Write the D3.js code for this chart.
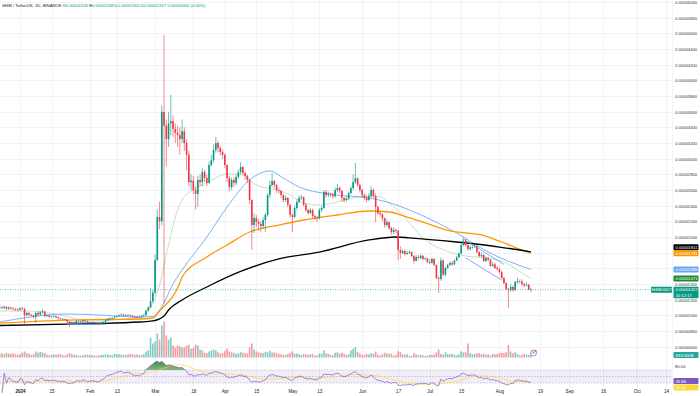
<!DOCTYPE html>
<html>
<head>
<meta charset="utf-8">
<script src="https://cdn.jsdelivr.net/npm/d3@7"></script>
<style>
  html, body { margin: 0; padding: 0; background: #fff; }
  svg { display: block; font-family: "Liberation Sans", Arial, sans-serif; }
</style>
</head>
<body>
<svg id="chart" width="700" height="396"></svg>
<script>
// prices are in units of 1e-8 USDT (1327 -> 0.00001327)
const startDate = "2023-12-23";
const firstOpen = 1100;

const closes = [
  1105,1095,1110,1085,1100,1090,1080,1075,1070,
  1090,1085,1000,1030,1010,1000,980,1030,1010,1040, 1050,990,1000,980,985,990,975,960,950,955, 945,920,900,910,905,930,925,920,935,925, 900,
  905,910,905,895,890,905,915,935,955,960, 965,980,990,1000,1010,995,1000,1005,1000,985, 975,980,975,990,1000,1060,1100,1180,1290,
  1706,2255,2200,3596,3420,3250,3450,3480,3380,3330, 3300,3250,3350,3200,3050,2700,2720,2600,2550,2728, 2700,2830,2753,2690,2919,2983,3111,3200,3136,3085, 3047,
  2919,2753,2638,2728,2690,2766,2830,2894,2817,2779, 2728,2472,2153,2243,2191,2166,2140,2217,2281,2536, 2664,2715,2664,2600,2590,2536,2472,2500,2410,2281,
  2255,2370,2447,2500,2510,2410,2345,2306,2345,2268, 2250,2240,2345,2370,2575,2536,2550,2540,2520,2600, 2625,2590,2500,2472,2490,2560,2625,2700,2750,2664, 2600,
  2536,2500,2472,2523,2600,2523,2383,2306,2290,2240, 2153,2190,2115,2064,2090,2080,1834,1796,1820,1783, 1796,1808,1757,1694,1745,1732,1760,1719,1725,1681,
  1670,1719,1643,1477,1464,1700,1520,1604,1643,1668, 1650,1700,1740,1790,1898,1950,1898,1847,1870,1872, 1880,1808,1757,1770,1694,1730,1710,1630,1650,1604, 1590,
  1553,1477,1413,1336,1323,1362,1323,1426,1438,1430, 1400,1380,1390,1326,1327
];
const highs = [
  1130,1120,1125,1115,1115,1110,1100,1095,1090,
  1100,1110,1090,1045,1040,1020,1005,1040,1050,1060, 1080,1060,1010,1005,995,1000,995,985,970,965, 960,950,925,925,920,940,940,935,945,945, 930,
  915,920,915,910,905,915,925,945,965,975, 975,995,1000,1015,1025,1015,1010,1015,1015,1000, 990,990,985,1000,1010,1070,1120,1350,1320,
  1780,2350,2450,3680,4579,3500,3600,3813,3550,3450, 3420,3400,3500,3400,3250,3100,2800,2780,2650,2780, 2800,2880,2860,2800,2960,3050,3180,3277,3230,3160, 3120,
  3070,2930,2780,2760,2760,2790,2860,2957,2900,2840, 2800,2740,2480,2300,2280,2230,2200,2250,2310,2560, 2720,2817,2730,2680,2630,2600,2550,2530,2510,2420,
  2300,2400,2480,2530,2540,2520,2430,2360,2370,2360, 2290,2270,2370,2400,2600,2600,2580,2570,2560,2630, 2680,2650,2600,2510,2520,2580,2650,2800,2945,2760, 2680,
  2620,2560,2530,2560,2650,2620,2560,2400,2330,2300, 2250,2230,2200,2130,2120,2110,2090,1880,1850,1840, 1820,1830,1815,1770,1770,1770,1780,1770,1745,1735,
  1720,1740,1730,1650,1500,1740,1720,1620,1660,1690, 1690,1710,1760,1800,1910,1990,1980,1920,1890,1900, 1900,1890,1820,1800,1780,1750,1750,1720,1680,1670, 1630,
  1610,1570,1490,1420,1350,1400,1380,1440,1480,1460, 1460,1410,1420,1400,1349
];
const lows = [
  1080,1075,1080,1065,1070,1070,1060,1055,1050,
  1060,1070,880,995,990,985,960,900,990,995, 1020,975,980,970,970,975,960,945,935,940, 935,910,850,895,895,900,915,910,915,915, 895,
  895,900,895,885,880,890,900,910,930,945, 950,960,975,985,995,985,985,990,985,970, 960,965,960,970,985,995,1050,1090,1160,
  1270,1690,2100,2150,1150,2900,3150,3300,3280,3200, 3150,3050,3200,3100,2850,2650,2600,2550,2350,2383, 2650,2650,2700,2650,2680,2900,2950,3080,3080,3040, 3000,
  2880,2700,2580,2600,2640,2660,2740,2800,2790,2730, 2690,2420,1834,2050,2120,2080,2060,2100,2064,2260, 2500,2640,2620,2560,2550,2500,2440,2450,2380,2250,
  2064,2240,2340,2430,2470,2390,2320,2280,2290,2240, 2220,2190,2220,2320,2360,2500,2510,2510,2490,2500, 2570,2560,2450,2440,2450,2480,2550,2600,2680,2640, 2570,
  2500,2470,2440,2460,2500,2500,2190,2280,2260,2200, 2120,2130,2090,2030,2040,2050,1706,1720,1780,1760, 1770,1780,1740,1660,1690,1710,1720,1700,1700,1660,
  1650,1660,1630,1460,1285,1440,1500,1500,1590,1630, 1630,1640,1690,1730,1780,1880,1880,1820,1830,1850, 1860,1790,1740,1740,1680,1680,1690,1620,1620,1590, 1570,
  1530,1460,1400,1320,1094,1300,1300,1310,1400,1410, 1380,1360,1370,1330,1300
];
// volume in billions of SHIB
const volumes = [
  900,1100,800,1200,1000,900,1100,800,700,
  800,1200,1500,1100,900,700,800,1500,1200,1400, 1300,1100,700,600,700,800,700,800,900,600, 500,800,1100,900,700,650,500,450,600,700, 750,
  600,650,500,450,550,600,650,800,750,600, 550,900,850,800,750,700,600,800,900,850, 700,800,650,600,900,1500,1800,5000,3500,
  4000,6000,4500,8000,9000,5500,4500,5000,3000,2500, 3000,2800,2500,2600,3000,3200,2200,2400,3200,3000, 2000,1800,1200,1100,1500,1700,2000,1800,1300,1000, 1100,
  1600,2200,1500,1300,1200,900,1000,1400,1200,1100, 1000,2500,3500,2000,1500,1300,1200,1100,1400,1300, 1700,1200,1300,1100,900,800,700,600,900,1100,
  1500,900,1000,800,600,900,800,700,800,900, 500,500,1000,900,1800,1100,900,600,600,1200, 1300,1000,1200,900,700,800,1800,2200,2600,1400, 1000,
  600,700,900,800,1100,900,1500,700,500,800, 1200,1000,900,1000,500,600,1600,1400,800,700, 800,400,400,1100,800,600,700,600,400,500,
  700,600,800,1300,2000,900,700,1300,900,800, 900,700,600,800,1500,1300,1300,3500,1100,800, 900,1000,1100,800,1000,700,800,500,900,800, 900,
  1100,1200,1100,1300,3100,1500,1100,1300,900,600, 700,900,800,700,633
];

// moving averages
const ma20 = [["2023-12-23",1055],["2024-01-05",1055],["2024-01-19",1004],["2024-02-01",928],["2024-02-12",940],["2024-02-23",991],["2024-02-28",1106],["2024-03-03",1387],["2024-03-07",1898],["2024-03-10",2255],["2024-03-13",2472],["2024-03-18",2600],["2024-03-24",2689],["2024-04-02",2804],["2024-04-09",2792],["2024-04-15",2664],["2024-04-24",2600],["2024-04-30",2536],["2024-05-06",2434],["2024-05-13",2409],["2024-05-21",2447],["2024-05-28",2498],["2024-06-04",2523],["2024-06-09",2511],["2024-06-13",2434],["2024-06-19",2281],["2024-06-28",1987],["2024-07-10",1808],["2024-07-17",1757],["2024-07-27",1732],["2024-08-04",1668],["2024-08-11",1540],["2024-08-15",1471]];
const ma50 = [["2023-12-23",915],["2024-01-22",1017],["2024-02-05",1004],["2024-02-23",979],["2024-02-29",985],["2024-03-03",1068],["2024-03-10",1451],["2024-03-13",1579],["2024-03-24",2000],["2024-04-02",2383],["2024-04-12",2728],["2024-04-21",2843],["2024-04-27",2753],["2024-05-04",2638],["2024-05-21",2536],["2024-06-04",2498],["2024-06-12",2447],["2024-06-22",2345],["2024-07-02",2217],["2024-07-13",2051],["2024-07-27",1808],["2024-08-15",1585]];
const ma100 = [["2023-12-23",900],["2024-01-22",940],["2024-02-05",947],["2024-02-23",953],["2024-02-29",966],["2024-03-03",1055],["2024-03-12",1413],["2024-03-13",1489],["2024-03-24",1745],["2024-04-02",1898],["2024-04-12",2064],["2024-04-25",2153],["2024-05-06",2217],["2024-05-21",2281],["2024-06-04",2332],["2024-06-13",2319],["2024-06-21",2255],["2024-06-28",2191],["2024-07-10",2077],["2024-07-24",2026],["2024-08-02",1936],["2024-08-11",1834],["2024-08-15",1791]];
const ma200 = [["2023-12-23",870],["2024-01-22",889],["2024-02-05",896],["2024-02-23",915],["2024-02-29",928],["2024-03-05",991],["2024-03-07",1068],["2024-03-13",1196],["2024-03-24",1362],["2024-04-08",1560],["2024-04-25",1720],["2024-05-13",1808],["2024-06-04",1962],["2024-06-16",2000],["2024-06-22",1990],["2024-07-13",1936],["2024-08-01",1872],["2024-08-15",1811]];

// hand-drawn channel lines
const channelLines = [
  [["2024-01-22",908],["2024-02-08",908]],
  [["2024-01-22",885],["2024-02-08",885]],
  [["2024-07-16",1975],["2024-08-03",1650]],
  [["2024-07-17",1732],["2024-08-02",1451]]
];

const priceTicks = d3.range(600, 5001, 200);
const timeTicks = ["2024-01-01","2024-01-15","2024-02-01","2024-02-13","2024-03-01","2024-03-18","2024-04-01","2024-04-15","2024-05-01","2024-05-13","2024-06-01","2024-06-17","2024-07-01","2024-07-15","2024-08-01","2024-08-19","2024-09-01","2024-09-16","2024-10-01","2024-10-14"];
const timeLabels = ["2024","15","Feb","13","Mar","18","Apr","15","May","13","Jun","17","Jul","15","Aug","19","Sep","16","Oct","14"];

const up = "#089981", down = "#f23645";
const plotRight = 672;
const parseDay = d3.utcParse("%Y-%m-%d");
const fmt = v => (v / 1e8).toFixed(8);

const t0 = parseDay(startDate);
const n = closes.length;
const dates = closes.map((_, i) => d3.utcDay.offset(t0, i));
const opens = closes.map((c, i) => i ? closes[i - 1] : firstOpen);

const x = d3.scaleUtc().domain([parseDay("2024-01-01"), parseDay("2024-10-14")]).range([20, 666]);
const y = d3.scaleLinear().domain([2000, 5000]).range([237, 2]);
const yVol = d3.scaleLinear().domain([0, 9000]).range([357.5, 321.5]);
const yRsi = d3.scaleLinear().domain([0, 100]).range([392.75, 360.25]);

const svg = d3.select("#chart");

// grid
const grid = svg.append("g").attr("stroke", "#f0f3fa").attr("stroke-width", 1);
grid.selectAll("line.h").data(priceTicks).join("line")
  .attr("x1", 0).attr("x2", plotRight)
  .attr("y1", d => Math.round(y(d)) + 0.5).attr("y2", d => Math.round(y(d)) + 0.5);
grid.selectAll("line.v").data(timeTicks).join("line")
  .attr("x1", d => Math.round(x(parseDay(d))) + 0.5).attr("x2", d => Math.round(x(parseDay(d))) + 0.5)
  .attr("y1", 0).attr("y2", 388);

// volume
svg.append("g").selectAll("rect").data(d3.range(n)).join("rect")
  .attr("x", i => x(dates[i]) - 0.8).attr("width", 1.6)
  .attr("y", i => yVol(volumes[i])).attr("height", i => yVol(0) - yVol(volumes[i]))
  .attr("fill", i => closes[i] >= opens[i] ? "rgba(8,153,129,0.5)" : "rgba(242,54,69,0.5)");

// moving averages
const maLine = d3.line().x(d => x(parseDay(d[0]))).y(d => y(d[1])).curve(d3.curveMonotoneX);
const mas = [
  { data: ma20, color: "#a5d6a7", w: 0.7 },
  { data: ma50, color: "#5b9cf6", w: 0.8 },
  { data: ma100, color: "#ff9800", w: 1.3 },
  { data: ma200, color: "#000000", w: 1.3 }
];
svg.append("g").selectAll("path").data(mas).join("path")
  .attr("d", d => maLine(d.data)).attr("fill", "none")
  .attr("stroke", d => d.color).attr("stroke-width", d => d.w);

// channel drawings
svg.append("g").selectAll("path").data(channelLines).join("path")
  .attr("d", d => d3.line().x(p => x(parseDay(p[0]))).y(p => y(p[1]))(d))
  .attr("stroke", "#5b9cf6").attr("stroke-width", 0.8).attr("fill", "none");
svg.append("rect")
  .attr("x", x(parseDay(channelLines[0][0][0]))).attr("width", x(parseDay(channelLines[0][1][0])) - x(parseDay(channelLines[0][0][0])))
  .attr("y", y(channelLines[0][0][1])).attr("height", y(channelLines[1][0][1]) - y(channelLines[0][0][1]))
  .attr("fill", "rgba(91,156,246,0.25)");

// candles
const cg = svg.append("g");
const col = i => closes[i] >= opens[i] ? up : down;
cg.selectAll("line").data(d3.range(n)).join("line")
  .attr("x1", i => x(dates[i])).attr("x2", i => x(dates[i]))
  .attr("y1", i => y(Math.max(highs[i], opens[i], closes[i])))
  .attr("y2", i => y(Math.min(lows[i], opens[i], closes[i])))
  .attr("stroke", col).attr("stroke-width", 0.6);
cg.selectAll("rect").data(d3.range(n)).join("rect")
  .attr("x", i => x(dates[i]) - 0.8).attr("width", 1.6)
  .attr("y", i => y(Math.max(opens[i], closes[i])))
  .attr("height", i => Math.max(0.6, Math.abs(y(opens[i]) - y(closes[i]))))
  .attr("fill", col);

// last price line
const last = closes[n - 1];
svg.append("line").attr("x1", 0).attr("x2", plotRight)
  .attr("y1", y(last)).attr("y2", y(last))
  .attr("stroke", up).attr("stroke-width", 0.6).attr("stroke-dasharray", "1,1.5");

// RSI (14) from closes, with its 14 MA
const rsi = [null];
let ag = 0, al = 0;
for (let i = 1; i < n; i++) {
  const ch = closes[i] - closes[i - 1];
  const g = Math.max(ch, 0), l = Math.max(-ch, 0);
  if (i <= 14) { ag += (g - ag) / i; al += (l - al) / i; }
  else { ag = (ag * 13 + g) / 14; al = (al * 13 + l) / 14; }
  rsi.push(al === 0 ? 100 : 100 - 100 / (1 + ag / al));
}
const rsiMa = rsi.map((v, i) => {
  if (i < 1) return null;
  const s = rsi.slice(Math.max(1, i - 13), i + 1);
  return d3.mean(s);
});

const rg = svg.append("g");
rg.append("rect").attr("x", 0).attr("width", plotRight)
  .attr("y", yRsi(70)).attr("height", yRsi(30) - yRsi(70))
  .attr("fill", "rgba(126,87,194,0.1)");
rg.selectAll("line.band").data([70, 50, 30]).join("line")
  .attr("x1", 0).attr("x2", plotRight).attr("y1", d => yRsi(d)).attr("y2", d => yRsi(d))
  .attr("stroke", "#9598a1").attr("stroke-width", 0.5).attr("stroke-dasharray", "1.5,1.5");

const defs = svg.append("defs");
defs.append("clipPath").attr("id", "ob").append("rect")
  .attr("x", 0).attr("width", plotRight).attr("y", 355).attr("height", yRsi(70) - 355);
const grad = defs.append("linearGradient").attr("id", "obg").attr("x1", 0).attr("x2", 0).attr("y1", 0).attr("y2", 1);
grad.append("stop").attr("offset", "0%").attr("stop-color", "#2e7d32").attr("stop-opacity", 0.9);
grad.append("stop").attr("offset", "100%").attr("stop-color", "#c8e6c9").attr("stop-opacity", 0.3);
const idx = d3.range(1, n);
rg.append("path").attr("clip-path", "url(#ob)")
  .attr("d", d3.area().x(i => x(dates[i])).y0(yRsi(70)).y1(i => yRsi(rsi[i]))(idx))
  .attr("fill", "url(#obg)");
rg.append("path")
  .attr("d", d3.line().x(i => x(dates[i])).y(i => yRsi(rsiMa[i]))(idx))
  .attr("fill", "none").attr("stroke", "#fdd835").attr("stroke-width", 0.7);
rg.append("path")
  .attr("d", d3.line().x(i => x(dates[i])).y(i => yRsi(rsi[i]))(idx))
  .attr("fill", "none").attr("stroke", "#7e57c2").attr("stroke-width", 0.7);

// price axis
const ax = svg.append("g").attr("transform", `translate(675,0)`)
  .call(d3.axisRight(y).tickValues(priceTicks).tickFormat(fmt).tickSize(0).tickPadding(0));
ax.select(".domain").remove();
ax.selectAll("text").attr("font-size", 4.2).attr("fill", "#333").attr("font-family", "Liberation Sans, Arial, sans-serif");
svg.append("line").attr("x1", plotRight + 0.5).attr("x2", plotRight + 0.5).attr("y1", 0).attr("y2", 388)
  .attr("stroke", "#f0f3fa");

// time axis
const tx = svg.append("g").attr("transform", "translate(0,389)")
  .call(d3.axisBottom(x).tickValues(timeTicks.map(parseDay)).tickFormat((d, i) => timeLabels[i]).tickSize(0).tickPadding(1));
tx.select(".domain").remove();
tx.selectAll("text").attr("font-size", 4.6).attr("fill", "#131722")
  .attr("font-family", "Liberation Sans, Arial, sans-serif")
  .attr("font-weight", (d, i) => i === 0 ? "bold" : "normal");

// RSI scale label
svg.append("text").attr("x", 675).attr("y", yRsi(80) + 1.5).attr("font-size", 4.2).attr("fill", "#333").text("80.00");

// right-hand value tags
const tags = [
  { v: ma200[ma200.length - 1][1], fill: "#000000" },
  { v: ma100[ma100.length - 1][1], fill: "#ff9800" },
  { v: ma50[ma50.length - 1][1], fill: "#6fa3f5" },
  { v: ma20[ma20.length - 1][1], fill: "#1b8a2e" }
].map(t => ({ ...t, y: y(t.v), text: fmt(t.v) }));
tags.sort((a, b) => a.y - b.y);
for (let i = tags.length - 1; i > 0; i--) {
  if (tags[i].y - tags[i - 1].y < 6) tags[i - 1].y = tags[i].y - 6;
}
function tag(cy, text, fill, h) {
  const g = svg.append("g");
  g.append("rect").attr("x", 673.5).attr("y", cy - 3).attr("width", 25).attr("height", h || 6).attr("rx", 0.8).attr("fill", fill);
  g.append("text").attr("x", 675.5).attr("y", cy + 1.5).attr("font-size", 4.2).attr("fill", "#fff").text(text);
  return g;
}
tags.forEach(t => tag(t.y, t.text, t.fill));
const lastTag = tag(y(last), fmt(last), up, 11.5);
lastTag.append("text").attr("x", 675.5).attr("y", y(last) + 7).attr("font-size", 4.2).attr("fill", "#fff").text("10:12:17");

// symbol tag left of the scale
svg.append("rect").attr("x", 651).attr("y", y(last) - 3).attr("width", 21).attr("height", 6).attr("rx", 0.8).attr("fill", up);
svg.append("text").attr("x", 661.5).attr("y", y(last) + 1.5).attr("text-anchor", "middle").attr("font-size", 4.2).attr("fill", "#fff").text("SHIBUSDT");

// volume tag
const lastVol = volumes[n - 1];
tag(355, d3.format(".3f")(lastVol) + "B", "#26a69a");

// RSI tags
tag(yRsi(35.86), "35.86", "#7e57c2");
tag(yRsi(35.86) + 6.3, rsiMa[n - 1].toFixed(2), "#fdd835");

// events marker
const ev = svg.append("g").attr("transform", "translate(533.5,353)");
ev.append("circle").attr("r", 3).attr("fill", "#fff").attr("stroke", "#7e57c2").attr("stroke-width", 0.7);
ev.append("text").attr("y", 1.4).attr("text-anchor", "middle").attr("font-size", 4).attr("fill", "#7e57c2").text("E");
ev.append("circle").attr("cx", 2.2).attr("cy", -2.2).attr("r", 0.9).attr("fill", down);

// header legend
const hd = svg.append("text").attr("x", 2).attr("y", 7).attr("font-size", 4.2).attr("fill", "#131722");
hd.append("tspan").text("SHIB / TetherUS, 1D, BINANCE  ");
[["O", opens[n - 1]], ["H", highs[n - 1]], ["L", lows[n - 1]], ["C", closes[n - 1]]].forEach(([k, v]) => {
  hd.append("tspan").text(" " + k);
  hd.append("tspan").attr("fill", up).text(fmt(v));
});
hd.append("tspan").attr("fill", up).text("  0.00000000 (0.00%)");
</script>
</body>
</html>
